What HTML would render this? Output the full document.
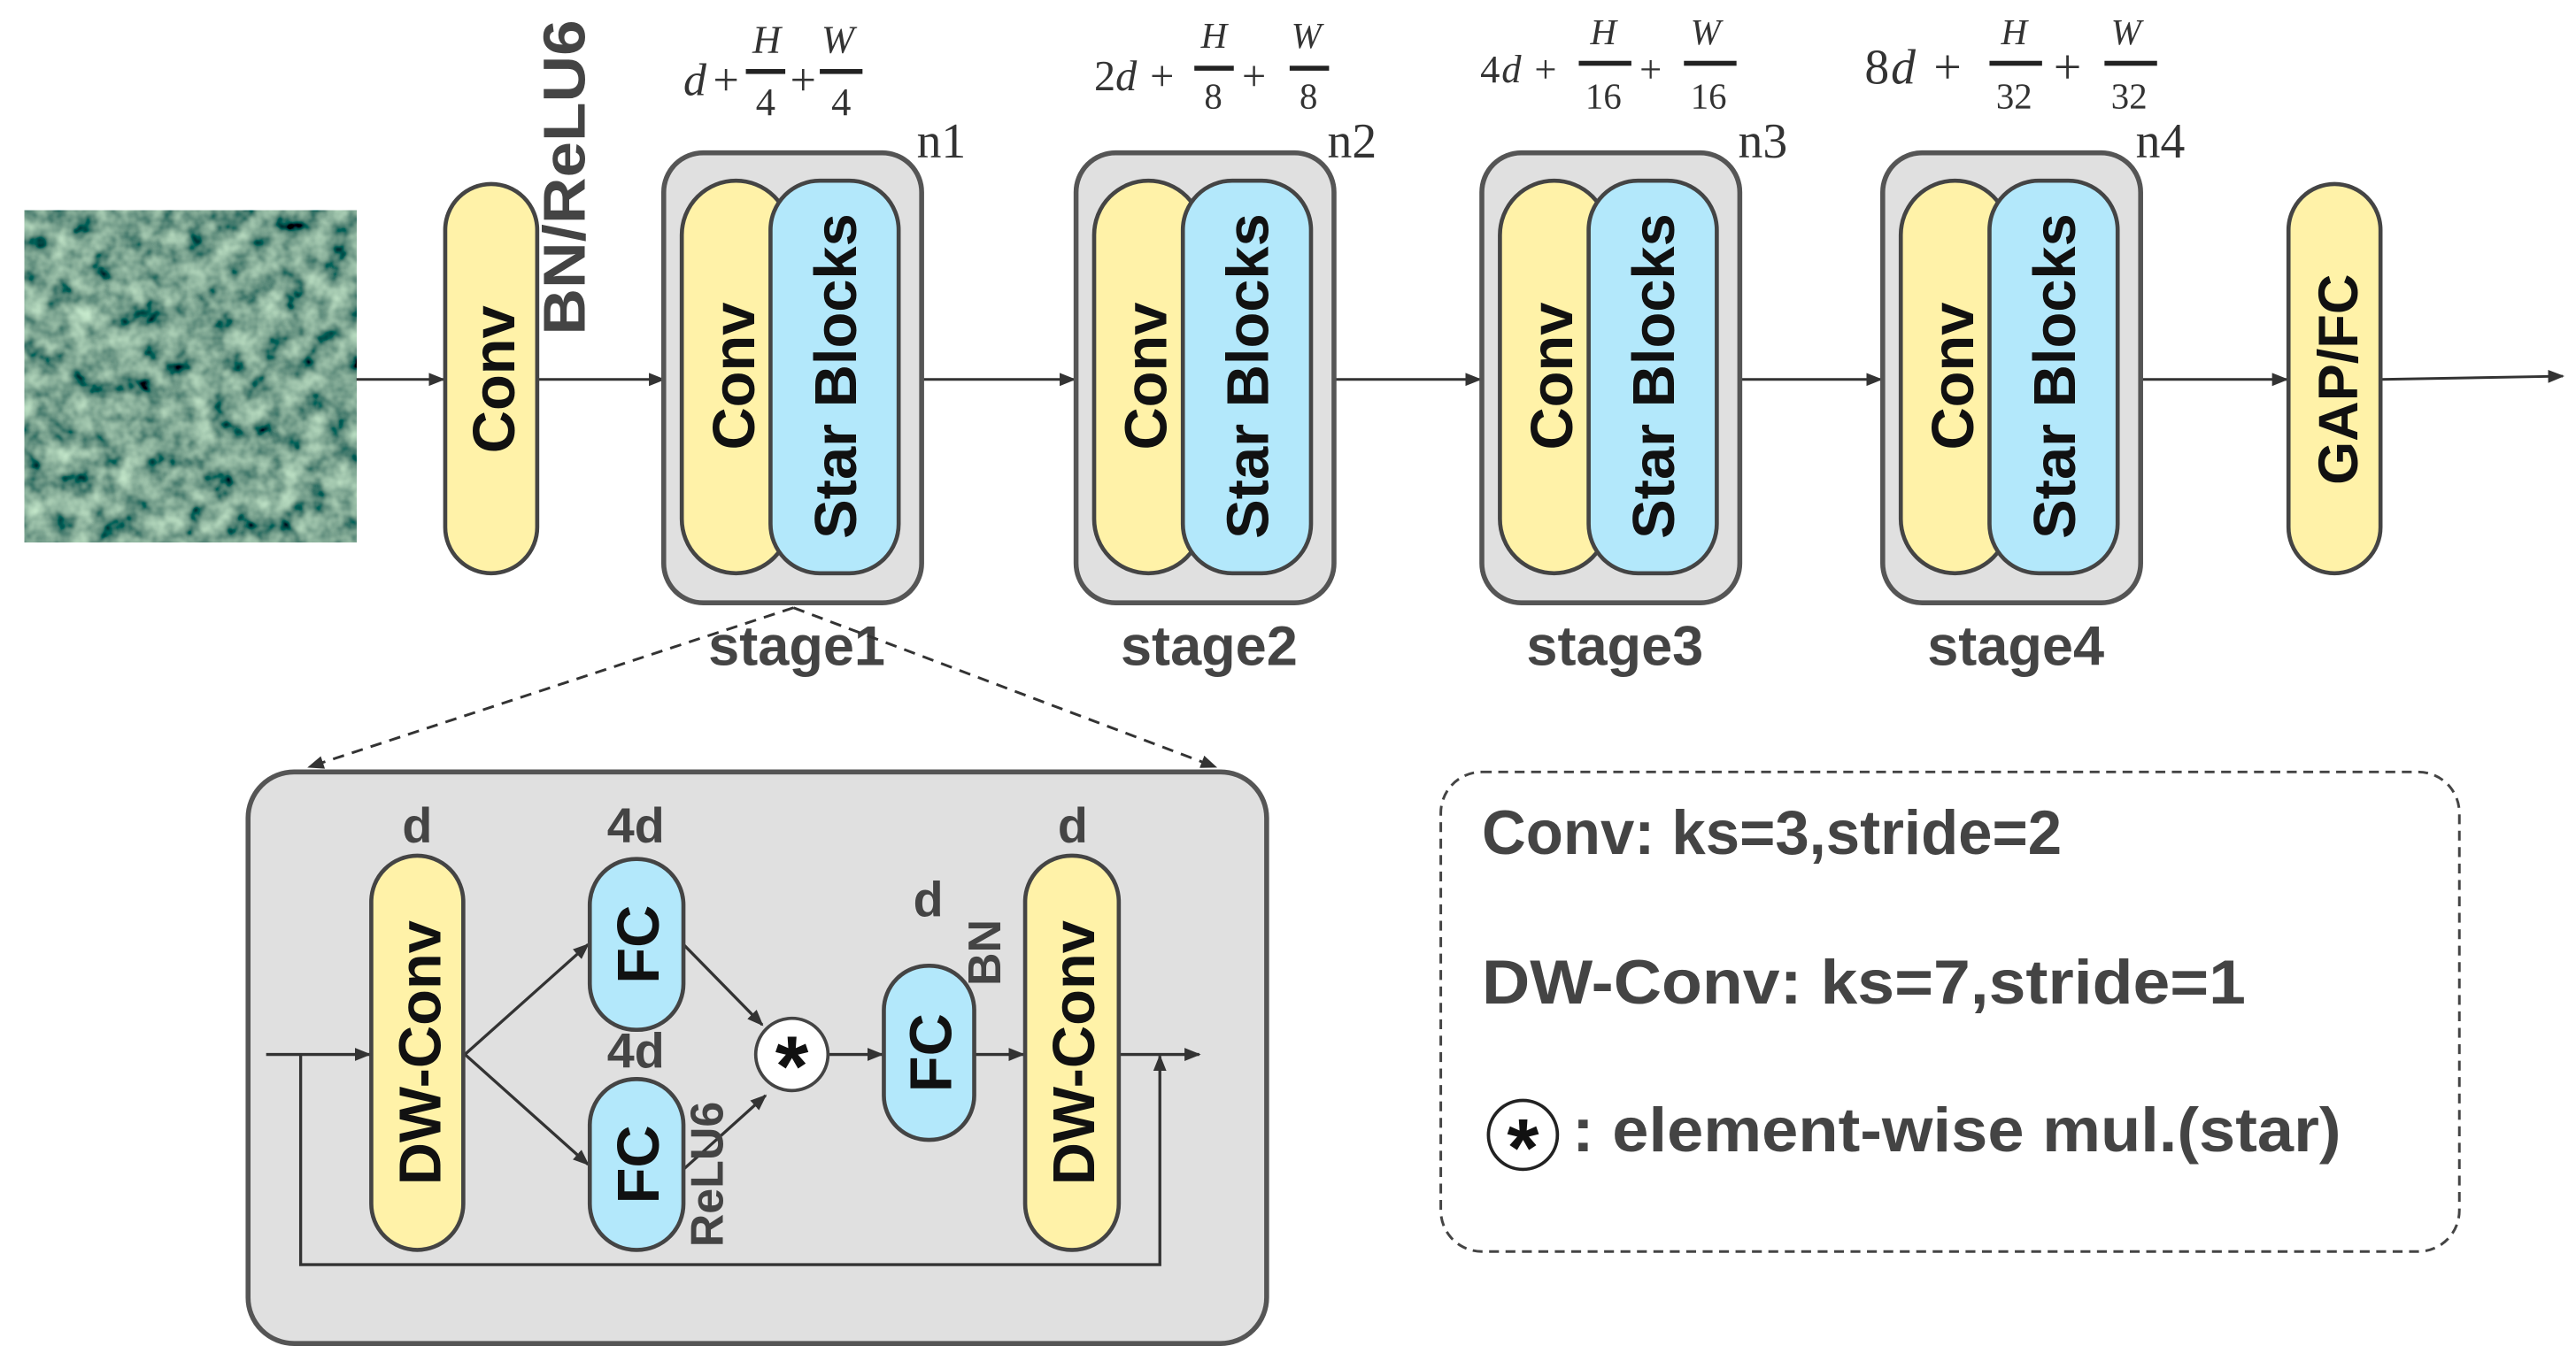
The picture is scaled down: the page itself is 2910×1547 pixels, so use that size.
<!DOCTYPE html>
<html><head><meta charset="utf-8"><style>
html,body{margin:0;padding:0;background:#fff;}
svg{display:block;}
text{font-family:"Liberation Sans",sans-serif;}
.b{font-weight:bold;}
.m{font-family:"Liberation Serif",serif;font-style:italic;fill:#333;}
.mn{font-family:"Liberation Serif",serif;fill:#333;}
</style></head><body>
<svg width="2910" height="1547" viewBox="0 0 1568 833.5" xmlns="http://www.w3.org/2000/svg">
<defs>
<marker id="ar" markerWidth="10" markerHeight="10" refX="9" refY="5" orient="auto" markerUnits="userSpaceOnUse"><path d="M0,1 L10,5 L0,9 z" fill="#333"/></marker>
<filter id="forest" x="0" y="0" width="100%" height="100%">
<feTurbulence type="fractalNoise" baseFrequency="0.07" numOctaves="3" seed="7"/>
<feColorMatrix type="matrix" values="0.9 0 0 0 -0.25  1.1 0 0 0 -0.18  0.8 0 0 0 -0.12  0 0 0 0 1"/>
</filter>
</defs>
<rect x="15" y="128" width="202" height="202" fill="#3d7a5a" filter="url(#forest)"/>
<g stroke="#333" stroke-width="1.6" fill="none" marker-end="url(#ar)">
<line x1="217" y1="231" x2="270" y2="231"/>
<line x1="327" y1="231" x2="404" y2="231"/>
<line x1="561" y1="231" x2="654" y2="231"/>
<line x1="811" y1="231" x2="901" y2="231"/>
<line x1="1058" y1="231" x2="1145" y2="231"/>
<line x1="1302" y1="231" x2="1392" y2="231"/>
<line x1="1449" y1="231" x2="1560" y2="229"/>
</g>
<rect x="271" y="112" width="56" height="237" rx="28" fill="#fff2a8" stroke="#444" stroke-width="2.5"/>
<text class="b" font-size="36" transform="translate(313,231) rotate(-90)" text-anchor="middle" fill="#111">Conv</text>
<text class="b" font-size="36" transform="translate(356,108) rotate(-90)" text-anchor="middle" fill="#444" textLength="192" lengthAdjust="spacingAndGlyphs">BN/ReLU6</text>
<g>
<rect x="404" y="93" width="157" height="274" rx="24" fill="#e0e0e0" stroke="#555" stroke-width="3"/>
<rect x="415" y="110" width="66" height="239" rx="33" fill="#fff2a8" stroke="#444" stroke-width="2.5"/>
<rect x="469" y="110" width="78" height="239" rx="30" fill="#b3e8fb" stroke="#444" stroke-width="2.5"/>
<text class="b" font-size="36" transform="translate(459,229) rotate(-90)" text-anchor="middle" fill="#111">Conv</text>
<text class="b" font-size="36" transform="translate(521,229) rotate(-90)" text-anchor="middle" fill="#111">Star Blocks</text>
<text class="b" font-size="34" x="485" y="405" text-anchor="middle" fill="#444">stage1</text>
</g>
<g transform="translate(251,0)">
<rect x="404" y="93" width="157" height="274" rx="24" fill="#e0e0e0" stroke="#555" stroke-width="3"/>
<rect x="415" y="110" width="66" height="239" rx="33" fill="#fff2a8" stroke="#444" stroke-width="2.5"/>
<rect x="469" y="110" width="78" height="239" rx="30" fill="#b3e8fb" stroke="#444" stroke-width="2.5"/>
<text class="b" font-size="36" transform="translate(459,229) rotate(-90)" text-anchor="middle" fill="#111">Conv</text>
<text class="b" font-size="36" transform="translate(521,229) rotate(-90)" text-anchor="middle" fill="#111">Star Blocks</text>
<text class="b" font-size="34" x="485" y="405" text-anchor="middle" fill="#444">stage2</text>
</g>
<g transform="translate(498,0)">
<rect x="404" y="93" width="157" height="274" rx="24" fill="#e0e0e0" stroke="#555" stroke-width="3"/>
<rect x="415" y="110" width="66" height="239" rx="33" fill="#fff2a8" stroke="#444" stroke-width="2.5"/>
<rect x="469" y="110" width="78" height="239" rx="30" fill="#b3e8fb" stroke="#444" stroke-width="2.5"/>
<text class="b" font-size="36" transform="translate(459,229) rotate(-90)" text-anchor="middle" fill="#111">Conv</text>
<text class="b" font-size="36" transform="translate(521,229) rotate(-90)" text-anchor="middle" fill="#111">Star Blocks</text>
<text class="b" font-size="34" x="485" y="405" text-anchor="middle" fill="#444">stage3</text>
</g>
<g transform="translate(742,0)">
<rect x="404" y="93" width="157" height="274" rx="24" fill="#e0e0e0" stroke="#555" stroke-width="3"/>
<rect x="415" y="110" width="66" height="239" rx="33" fill="#fff2a8" stroke="#444" stroke-width="2.5"/>
<rect x="469" y="110" width="78" height="239" rx="30" fill="#b3e8fb" stroke="#444" stroke-width="2.5"/>
<text class="b" font-size="36" transform="translate(459,229) rotate(-90)" text-anchor="middle" fill="#111">Conv</text>
<text class="b" font-size="36" transform="translate(521,229) rotate(-90)" text-anchor="middle" fill="#111">Star Blocks</text>
<text class="b" font-size="34" x="485" y="405" text-anchor="middle" fill="#444">stage4</text>
</g>
<rect x="1393" y="112" width="56" height="237" rx="28" fill="#fff2a8" stroke="#444" stroke-width="2.5"/>
<text class="b" font-size="34" transform="translate(1435,231) rotate(-90)" text-anchor="middle" fill="#111">GAP/FC</text>
<g>
<text class="m" font-size="28" x="416" y="58">d</text><text class="mn" font-size="28" x="434" y="58">+</text>
<text class="m" font-size="24" x="458" y="32">H</text><rect x="454" y="42" width="24" height="3" fill="#222"/><text class="mn" font-size="24" x="460" y="70">4</text>
<text class="mn" font-size="28" x="481" y="58">+</text>
<text class="m" font-size="24" x="500" y="32">W</text><rect x="499" y="42" width="26" height="3" fill="#222"/><text class="mn" font-size="24" x="506" y="70">4</text>
<text class="mn" font-size="30" x="558" y="96">n1</text>

<text class="mn" font-size="26" x="666" y="55">2</text><text class="m" font-size="26" x="679" y="55">d</text><text class="mn" font-size="26" x="700" y="55">+</text>
<text class="m" font-size="22" x="731" y="29">H</text><rect x="727" y="40" width="24" height="3" fill="#222"/><text class="mn" font-size="22" x="733" y="66">8</text>
<text class="mn" font-size="26" x="756" y="55">+</text>
<text class="m" font-size="22" x="786" y="29">W</text><rect x="785" y="40" width="24" height="3" fill="#222"/><text class="mn" font-size="22" x="791" y="66">8</text>
<text class="mn" font-size="30" x="808" y="96">n2</text>

<text class="mn" font-size="24" x="901" y="50">4</text><text class="m" font-size="24" x="914" y="50">d</text><text class="mn" font-size="24" x="934" y="50">+</text>
<text class="m" font-size="22" x="968" y="27">H</text><rect x="961" y="37" width="32" height="3" fill="#222"/><text class="mn" font-size="22" x="965" y="66">16</text>
<text class="mn" font-size="24" x="998" y="50">+</text>
<text class="m" font-size="22" x="1029" y="27">W</text><rect x="1025" y="37" width="32" height="3" fill="#222"/><text class="mn" font-size="22" x="1029" y="66">16</text>
<text class="mn" font-size="30" x="1058" y="96">n3</text>

<text class="mn" font-size="30" x="1135" y="51">8</text><text class="m" font-size="30" x="1151" y="51">d</text><text class="mn" font-size="30" x="1177" y="51">+</text>
<text class="m" font-size="22" x="1218" y="27">H</text><rect x="1211" y="37" width="32" height="3" fill="#222"/><text class="mn" font-size="22" x="1215" y="66">32</text>
<text class="mn" font-size="30" x="1250" y="51">+</text>
<text class="m" font-size="22" x="1285" y="27">W</text><rect x="1281" y="37" width="32" height="3" fill="#222"/><text class="mn" font-size="22" x="1285" y="66">32</text>
<text class="mn" font-size="30" x="1300" y="96">n4</text>
</g>
<g stroke="#333" stroke-width="1.6" stroke-dasharray="7,5" fill="none" marker-end="url(#ar)">
<line x1="483" y1="370" x2="188" y2="467"/>
<line x1="483" y1="370" x2="740" y2="467"/>
</g>
<rect x="151" y="470" width="620" height="348" rx="28" fill="#e0e0e0" stroke="#555" stroke-width="3"/>
<g stroke="#333" stroke-width="1.8" fill="none">
<line x1="162" y1="642" x2="225" y2="642" marker-end="url(#ar)"/>
<polyline points="183,642 183,770 706,770 706,643" marker-end="url(#ar)"/>
<line x1="681" y1="642" x2="730" y2="642" marker-end="url(#ar)"/>
<line x1="283" y1="642" x2="358" y2="575" marker-end="url(#ar)"/>
<line x1="283" y1="642" x2="358" y2="709" marker-end="url(#ar)"/>
<line x1="416" y1="575" x2="464" y2="624" marker-end="url(#ar)"/>
<line x1="416" y1="712" x2="466" y2="667" marker-end="url(#ar)"/>
<line x1="504" y1="642" x2="537" y2="642" marker-end="url(#ar)"/>
<line x1="593" y1="642" x2="623" y2="642" marker-end="url(#ar)"/>
</g>
<rect x="226" y="521" width="56" height="240" rx="28" fill="#fff2a8" stroke="#444" stroke-width="2.5"/>
<text class="b" font-size="36" transform="translate(268,641) rotate(-90)" text-anchor="middle" fill="#111">DW-Conv</text>
<rect x="624" y="521" width="57" height="240" rx="28" fill="#fff2a8" stroke="#444" stroke-width="2.5"/>
<text class="b" font-size="36" transform="translate(666,641) rotate(-90)" text-anchor="middle" fill="#111">DW-Conv</text>
<rect x="359" y="523" width="57" height="104" rx="28" fill="#b3e8fb" stroke="#444" stroke-width="2.5"/>
<text class="b" font-size="36" transform="translate(401,575) rotate(-90)" text-anchor="middle" fill="#111">FC</text>
<rect x="359" y="657" width="57" height="104" rx="28" fill="#b3e8fb" stroke="#444" stroke-width="2.5"/>
<text class="b" font-size="36" transform="translate(401,709) rotate(-90)" text-anchor="middle" fill="#111">FC</text>
<rect x="538" y="588" width="55" height="106" rx="27" fill="#b3e8fb" stroke="#444" stroke-width="2.5"/>
<text class="b" font-size="36" transform="translate(579,641) rotate(-90)" text-anchor="middle" fill="#111">FC</text>
<circle cx="482" cy="642" r="22" fill="#fff" stroke="#444" stroke-width="2"/>
<text class="b" font-size="52" x="482" y="667" text-anchor="middle" fill="#111">*</text>
<g fill="#444">
<text class="b" font-size="30" x="254" y="513" text-anchor="middle">d</text>
<text class="b" font-size="30" x="387" y="513" text-anchor="middle">4d</text>
<text class="b" font-size="30" x="387" y="650" text-anchor="middle">4d</text>
<text class="b" font-size="30" x="565" y="558" text-anchor="middle">d</text>
<text class="b" font-size="30" x="653" y="513" text-anchor="middle">d</text>
<text class="b" font-size="28" transform="translate(609,580) rotate(-90)" text-anchor="middle">BN</text>
<text class="b" font-size="28" transform="translate(440,715) rotate(-90)" text-anchor="middle">ReLU6</text>
</g>
<rect x="877" y="470" width="620" height="292" rx="25" fill="none" stroke="#444" stroke-width="1.6" stroke-dasharray="6,4"/>
<g fill="#444">
<text class="b" font-size="38" x="902" y="520" textLength="353" lengthAdjust="spacingAndGlyphs">Conv: ks=3,stride=2</text>
<text class="b" font-size="38" x="902" y="611" textLength="465" lengthAdjust="spacingAndGlyphs">DW-Conv: ks=7,stride=1</text>
<text class="b" font-size="38" x="957" y="701" textLength="468" lengthAdjust="spacingAndGlyphs">: element-wise mul.(star)</text>
</g>
<circle cx="927" cy="691" r="21" fill="#fff" stroke="#222" stroke-width="2"/>
<text class="b" font-size="50" x="927" y="716" text-anchor="middle" fill="#111">*</text>
</svg>
</body></html>
